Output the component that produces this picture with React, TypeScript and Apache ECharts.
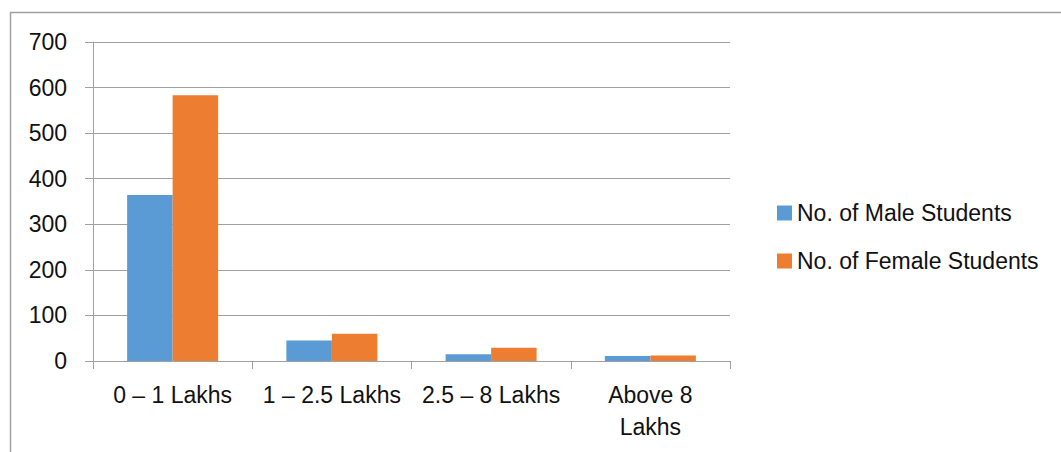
import React, { useEffect, useRef } from "react";
import * as echarts from "echarts";

const categories = ["0 – 1 Lakhs", "1 – 2.5 Lakhs", "2.5 – 8 Lakhs", "Above 8 Lakhs"];
const maleStudents = [364, 45, 15, 11];
const femaleStudents = [583, 60, 29, 12];
const seriesNames = ["No. of Male Students", "No. of Female Students"];

const FONT = "Liberation Sans";
const FS = 23;

export default function App() {
  const ref = useRef<HTMLDivElement>(null);
  useEffect(() => {
    if (!ref.current) return;
    const chart = echarts.init(ref.current, null, { renderer: "svg" });
    chart.setOption({
      animation: false,
      backgroundColor: "#ffffff",
      textStyle: { fontFamily: FONT },
      graphic: [
        {
          type: "rect",
          shape: { x: 10.5, y: 12.5, width: 1100, height: 500 },
          style: { fill: "none", stroke: "#a0a0a0", lineWidth: 1.5 },
          silent: true,
        },
      ],
      grid: { left: 93, right: 331, top: 42, bottom: 91, containLabel: false },
      legend: {
        orient: "vertical",
        left: 772,
        top: 196,
        itemWidth: 15,
        itemHeight: 15,
        itemGap: 24,
        icon: "rect",
        textStyle: { fontFamily: FONT, fontSize: FS, color: "#111", lineHeight: 24 },
        data: seriesNames,
      },
      xAxis: {
        type: "category",
        data: categories,
        axisLine: { show: true, lineStyle: { color: "#a0a0a0", width: 1 } },
        axisTick: { show: true, length: 8, lineStyle: { color: "#a0a0a0" } },
        axisLabel: {
          fontFamily: FONT,
          fontSize: FS,
          color: "#111",
          margin: 18,
          lineHeight: 32,
          interval: 0,
          formatter: (v: string) => (/^\d/.test(v) ? v : v.replace(/ (\S+)$/, "\n$1")),
        },
      },
      yAxis: {
        type: "value",
        min: 0,
        max: 700,
        interval: 100,
        axisLine: { show: true, lineStyle: { color: "#a0a0a0", width: 1 } },
        axisTick: { show: true, length: 8, lineStyle: { color: "#a0a0a0" } },
        splitLine: { show: true, lineStyle: { color: "#a0a0a0", width: 1 } },
        axisLabel: { fontFamily: FONT, fontSize: FS, color: "#111", margin: 26 },
      },
      series: [
        {
          name: seriesNames[0],
          type: "bar",
          data: maleStudents,
          itemStyle: { color: "#5B9BD5" },
          barGap: "0%",
          barCategoryGap: "42.86%",
        },
        {
          name: seriesNames[1],
          type: "bar",
          data: femaleStudents,
          itemStyle: { color: "#ED7D31" },
          barGap: "0%",
          barCategoryGap: "42.86%",
        },
      ],
    });
    return () => chart.dispose();
  }, []);
  return (
    <div
      ref={ref}
      style={{ position: "fixed", left: 0, top: 0, width: 1061, height: 452, background: "#fff" }}
    />
  );
}
